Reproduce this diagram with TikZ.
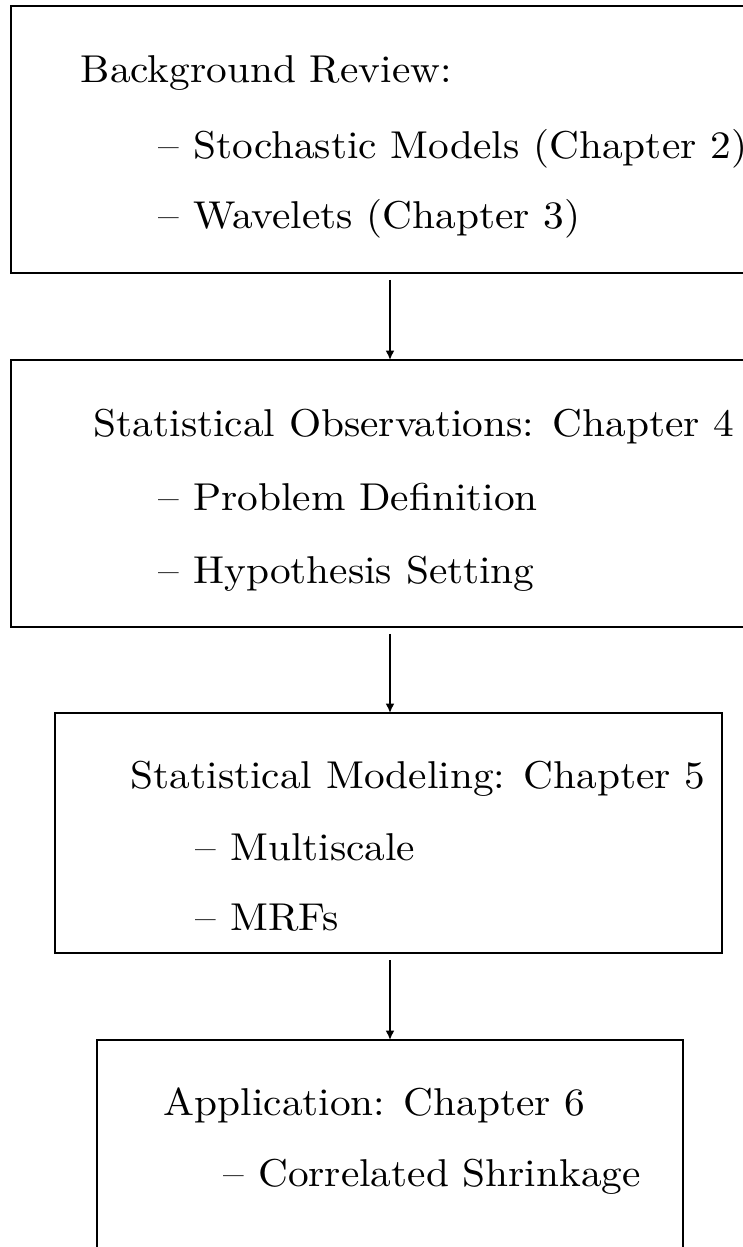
\documentclass[tikz,border=0pt]{standalone}
\usetikzlibrary{arrows.meta}
\newcommand{\entry}[1]{\scalebox{1.065}[1]{#1}}

\begin{document}
\begin{tikzpicture}[x=0.2577pt, y=-0.2577pt, font=\normalsize,
  frame/.style={line width=0.52pt},
  txt/.style={anchor=base west, inner sep=0pt},
  ar/.style={-{Latex[length=2.4pt, width=2.3pt]}, line width=0.52pt}]
\useasboundingbox (0,0) rectangle (743,1247);
\clip (0,0) rectangle (743,1247);

% boxes
\draw[frame] (11,6) rectangle (770,273);
\draw[frame] (11,360) rectangle (770,627);
\draw[frame] (55,713) rectangle (722,953);
\draw[frame] (97,1040) rectangle (683,1300);

\coordinate (r1) at (11,273);
\coordinate (o0) at (11,360);
\coordinate (o1) at (11,627);
\coordinate (m0) at (55,713);
\coordinate (m1) at (55,953);
\coordinate (a0) at (97,1040);
\coordinate (ax) at (390,0);

% texts
\node[txt] (t1) at (80,82) {\entry{Background Review:}};
\node[txt] (t2) at (158,158) {\entry{-- Stochastic Models (Chapter 2)}};
\node[txt] (t3) at (158,228) {\entry{-- Wavelets (Chapter 3)}};

\node[txt] (t4) at (93,436) {\entry{Statistical Observations: Chapter 4}};
\node[txt] (t5) at (158,510) {\entry{-- Problem Definition}};
\node[txt] (t6) at (158,583) {\entry{-- Hypothesis Setting}};

\node[txt] (t7) at (130,788) {\entry{Statistical Modeling: Chapter 5}};
\node[txt] (t8) at (195,860) {\entry{-- Multiscale}};
\node[txt] (t9) at (195,930) {\entry{-- MRFs}};

\node[txt] (t10) at (163,1115) {\entry{Application: Chapter 6}};
\node[txt] (t11) at (223,1186) {\entry{-- Correlated Shrinkage}};

% arrows
\draw[ar] ([yshift=-1.8pt]r1 -| ax) -- (o0 -| ax);
\draw[ar] ([yshift=-1.8pt]o1 -| ax) -- (m0 -| ax);
\draw[ar] ([yshift=-1.8pt]m1 -| ax) -- (a0 -| ax);
\end{tikzpicture}
\end{document}
